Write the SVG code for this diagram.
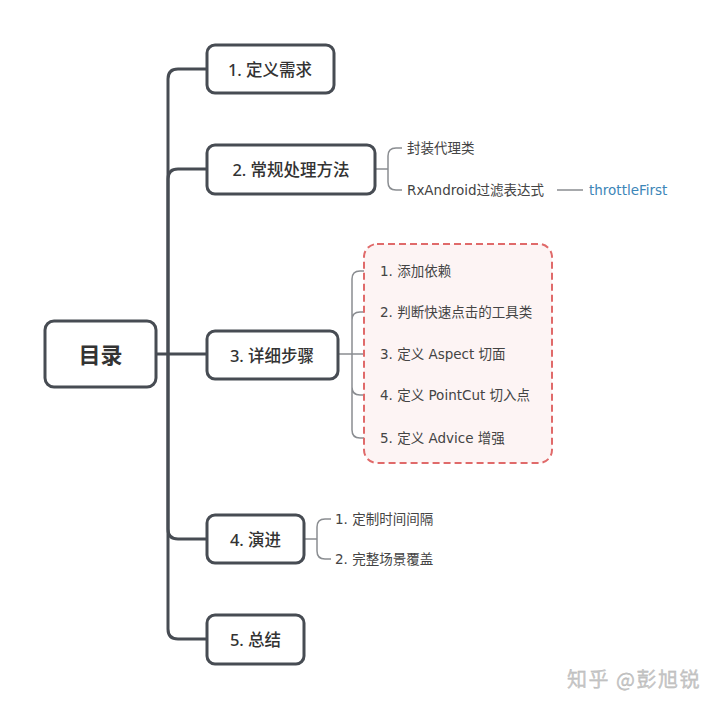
<svg xmlns="http://www.w3.org/2000/svg" width="720" height="708" viewBox="0 0 720 708">
<style>
.node{fill:#fff;stroke:#474c53;stroke-width:3}
.t{font-family:"Noto Sans","Noto Sans CJK SC",sans-serif;font-weight:500;font-size:16.5px;fill:#333;text-anchor:middle;dominant-baseline:central}
.root{font-size:22px;font-weight:700}
.c{font-family:"DejaVu Sans","Noto Sans CJK SC",sans-serif;font-size:13.5px;fill:#444;dominant-baseline:central}
.main{fill:none;stroke:#474c53;stroke-width:3}
.sub{fill:none;stroke:#8a8d91;stroke-width:1.5}
</style>
<rect width="720" height="708" fill="#fff"/>
<g id="connectors">
<path class="main" d="M156,354 H206"/>
<path class="main" d="M168,354 V79 Q168,69 178,69 H206"/>
<path class="main" d="M168,354 V179 Q168,169 178,169 H206"/>
<path class="main" d="M168,354 V629 Q168,639 178,639 H206"/>
<path class="main" d="M168,354 V529 Q168,539 178,539 H206"/>
<path class="sub" d="M375,169 H388 M388,169 V156 Q388,148 396,148 H402 M388,169 V182 Q388,190 396,190 H402"/>
<path class="sub" d="M557,190 H583"/>
<path class="sub" d="M338,354 H375 M352,354 V279 Q352,271 360,271 H375 M352,354 V320 Q352,312 360,312 H375 M352,354 V387 Q352,395 360,395 H375 M352,354 V430 Q352,438 360,438 H375"/>
<path class="sub" d="M304,539 H317 M317,539 V527 Q317,519 325,519 H331 M317,539 V551 Q317,559 325,559 H331"/>
</g>
<g id="group3">
<rect x="364" y="244" width="188" height="219" rx="13" fill="#fdf4f4" stroke="#e06a6a" stroke-width="2" stroke-dasharray="7,4"/>
</g>
<g id="root"><rect class="node" x="45" y="321" width="111" height="66" rx="9"/><text class="t root" x="100.5" y="354">目录</text></g>
<g id="n1"><rect class="node" x="207" y="45" width="127" height="48" rx="8"/><text class="t" x="270" y="69">1. 定义需求</text></g>
<g id="n2"><rect class="node" x="207" y="145" width="168" height="49" rx="8"/><text class="t" x="291" y="169.5">2. 常规处理方法</text></g>
<g id="n3"><rect class="node" x="207" y="331" width="131" height="48" rx="8"/><text class="t" x="272" y="355">3. 详细步骤</text></g>
<g id="n4"><rect class="node" x="207" y="515" width="97" height="48" rx="8"/><text class="t" x="255.5" y="539">4. 演进</text></g>
<g id="n5"><rect class="node" x="207" y="615" width="97" height="49" rx="8"/><text class="t" x="255.5" y="639.5">5. 总结</text></g>
<g id="n2c">
<text class="c" x="407" y="148">封装代理类</text>
<text class="c" x="407" y="190">RxAndroid过滤表达式</text>
<text class="c" x="589" y="190" style="fill:#3c86b8">throttleFirst</text>
</g>
<g id="n3c">
<text class="c" x="380" y="271">1. 添加依赖</text>
<text class="c" x="380" y="312">2. 判断快速点击的工具类</text>
<text class="c" x="380" y="354">3. 定义 Aspect 切面</text>
<text class="c" x="380" y="395">4. 定义 PointCut 切入点</text>
<text class="c" x="380" y="438">5. 定义 Advice 增强</text>
</g>
<g id="n4c">
<text class="c" x="335" y="519">1. 定制时间间隔</text>
<text class="c" x="335" y="559">2. 完整场景覆盖</text>
</g>
<text x="567" y="678" font-family="Noto Sans CJK SC,sans-serif" font-size="20" letter-spacing="1.5" fill="#c8c8c8" stroke="#b0b0b0" stroke-width="0.3" dominant-baseline="central">知乎 @彭旭锐</text>
</svg>
